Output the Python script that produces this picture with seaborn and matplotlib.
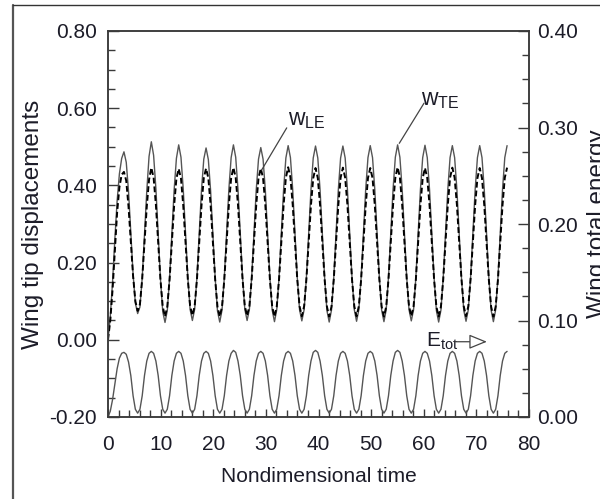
import numpy as np
import seaborn as sns
import matplotlib.pyplot as plt
from matplotlib.lines import Line2D
from matplotlib.ticker import MultipleLocator, FormatStrFormatter

DT = 5.2 / 12

w_te = [
    0.000, 0.060, 0.150, 0.260, 0.360, 0.430, 0.470,
    0.487, 0.460, 0.385, 0.280, 0.170, 0.095, 0.068, 0.085, 0.160, 0.270, 0.385, 0.475,
    0.513, 0.478, 0.392, 0.275, 0.158, 0.073, 0.045, 0.076, 0.160, 0.274, 0.388, 0.470,
    0.505, 0.473, 0.390, 0.276, 0.162, 0.079, 0.050, 0.079, 0.162, 0.275, 0.388, 0.468,
    0.497, 0.467, 0.386, 0.274, 0.160, 0.075, 0.046, 0.077, 0.161, 0.276, 0.390, 0.472,
    0.505, 0.473, 0.390, 0.276, 0.162, 0.079, 0.050, 0.079, 0.162, 0.275, 0.388, 0.468,
    0.498, 0.468, 0.387, 0.275, 0.161, 0.077, 0.047, 0.078, 0.161, 0.275, 0.389, 0.471,
    0.503, 0.472, 0.389, 0.275, 0.161, 0.078, 0.049, 0.078, 0.161, 0.275, 0.389, 0.471,
    0.502, 0.471, 0.388, 0.274, 0.160, 0.076, 0.046, 0.077, 0.161, 0.275, 0.389, 0.471,
    0.502, 0.471, 0.389, 0.275, 0.161, 0.078, 0.048, 0.078, 0.161, 0.275, 0.389, 0.472,
    0.503, 0.472, 0.389, 0.275, 0.161, 0.077, 0.047, 0.078, 0.162, 0.276, 0.390, 0.473,
    0.505, 0.473, 0.390, 0.275, 0.161, 0.078, 0.049, 0.078, 0.161, 0.275, 0.389, 0.472,
    0.504, 0.472, 0.389, 0.275, 0.160, 0.076, 0.046, 0.077, 0.161, 0.275, 0.389, 0.472,
    0.503, 0.472, 0.389, 0.275, 0.161, 0.077, 0.048, 0.078, 0.161, 0.275, 0.389, 0.472,
    0.503, 0.472, 0.389, 0.275, 0.161, 0.077, 0.047, 0.078, 0.161, 0.275, 0.389, 0.472,
    0.503,
]

w_le = [
    0.000, 0.050, 0.130, 0.230, 0.330, 0.395, 0.428,
    0.435, 0.412, 0.345, 0.255, 0.165, 0.100, 0.075, 0.092, 0.158, 0.250, 0.345, 0.415,
    0.446, 0.420, 0.350, 0.253, 0.156, 0.086, 0.060, 0.086, 0.156, 0.252, 0.348, 0.418,
    0.443, 0.418, 0.348, 0.252, 0.157, 0.088, 0.063, 0.087, 0.156, 0.252, 0.348, 0.419,
    0.444, 0.419, 0.349, 0.252, 0.156, 0.086, 0.060, 0.086, 0.156, 0.253, 0.349, 0.419,
    0.446, 0.420, 0.350, 0.253, 0.157, 0.087, 0.062, 0.087, 0.157, 0.253, 0.349, 0.419,
    0.444, 0.419, 0.349, 0.252, 0.156, 0.086, 0.060, 0.086, 0.156, 0.252, 0.349, 0.420,
    0.447, 0.421, 0.350, 0.253, 0.156, 0.087, 0.061, 0.087, 0.157, 0.253, 0.349, 0.419,
    0.445, 0.419, 0.349, 0.252, 0.156, 0.086, 0.060, 0.086, 0.156, 0.253, 0.349, 0.420,
    0.446, 0.420, 0.349, 0.253, 0.157, 0.087, 0.061, 0.087, 0.156, 0.252, 0.348, 0.419,
    0.445, 0.419, 0.349, 0.252, 0.156, 0.086, 0.060, 0.086, 0.157, 0.253, 0.349, 0.420,
    0.447, 0.421, 0.350, 0.253, 0.156, 0.087, 0.061, 0.087, 0.156, 0.253, 0.349, 0.419,
    0.445, 0.419, 0.349, 0.252, 0.156, 0.086, 0.060, 0.086, 0.156, 0.252, 0.349, 0.420,
    0.446, 0.420, 0.350, 0.253, 0.157, 0.087, 0.061, 0.087, 0.157, 0.253, 0.349, 0.419,
    0.445, 0.419, 0.349, 0.252, 0.156, 0.086, 0.060, 0.086, 0.156, 0.253, 0.349, 0.420,
    0.446,
]

e_tot = [
    0.000, 0.006, 0.018, 0.034, 0.050, 0.061, 0.066,
    0.067, 0.065, 0.057, 0.043, 0.022, 0.008, 0.004, 0.008, 0.022, 0.043, 0.058, 0.066,
    0.068, 0.066, 0.058, 0.043, 0.022, 0.008, 0.004, 0.008, 0.022, 0.043, 0.058, 0.066,
    0.068, 0.066, 0.058, 0.043, 0.022, 0.008, 0.004, 0.008, 0.022, 0.043, 0.058, 0.066,
    0.068, 0.066, 0.058, 0.043, 0.022, 0.008, 0.004, 0.008, 0.022, 0.043, 0.058, 0.066,
    0.069, 0.067, 0.058, 0.043, 0.022, 0.008, 0.004, 0.008, 0.022, 0.043, 0.058, 0.066,
    0.068, 0.066, 0.058, 0.043, 0.022, 0.008, 0.004, 0.008, 0.022, 0.043, 0.058, 0.066,
    0.068, 0.066, 0.058, 0.043, 0.022, 0.008, 0.004, 0.008, 0.022, 0.043, 0.058, 0.067,
    0.069, 0.067, 0.058, 0.043, 0.022, 0.008, 0.004, 0.008, 0.022, 0.043, 0.058, 0.066,
    0.068, 0.066, 0.058, 0.043, 0.022, 0.008, 0.004, 0.008, 0.022, 0.043, 0.058, 0.066,
    0.068, 0.066, 0.058, 0.043, 0.022, 0.008, 0.004, 0.008, 0.022, 0.043, 0.058, 0.067,
    0.069, 0.067, 0.058, 0.043, 0.022, 0.008, 0.004, 0.008, 0.022, 0.043, 0.058, 0.066,
    0.068, 0.066, 0.058, 0.043, 0.022, 0.008, 0.004, 0.008, 0.022, 0.043, 0.058, 0.066,
    0.068, 0.066, 0.058, 0.043, 0.022, 0.008, 0.004, 0.008, 0.022, 0.043, 0.058, 0.066,
    0.068, 0.066, 0.058, 0.043, 0.022, 0.008, 0.004, 0.008, 0.022, 0.043, 0.058, 0.066,
    0.068,
]

time = np.arange(len(w_te)) * DT

sns.set_style('ticks')
plt.rcParams['font.family'] = ['Liberation Sans', 'DejaVu Sans']
plt.rcParams['mathtext.default'] = 'regular'
txt = '#1c1c28'
axc = '#3a3a3a'

fig = plt.figure(figsize=(6, 4.99), dpi=100)
ax = fig.add_axes([108/600, 1 - 417/499, 421/600, 386/499])
ax2 = ax.twinx()
ax2.set_position(ax.get_position())

sns.lineplot(x=time, y=w_te, ax=ax, color='#555555', lw=1.0)
sns.lineplot(x=time, y=w_le, ax=ax, color='black', lw=1.4, linestyle=(0, (3, 1.5)))
sns.lineplot(x=time, y=e_tot, ax=ax2, color='#555555', lw=1.0)

ax.set_xlim(0, 80)
ax.set_ylim(-0.2, 0.8)
ax2.set_ylim(0, 0.4)

ax.xaxis.set_major_locator(MultipleLocator(10))
ax.xaxis.set_minor_locator(MultipleLocator(2))
ax.yaxis.set_major_locator(MultipleLocator(0.2))
ax.yaxis.set_minor_locator(MultipleLocator(0.05))
ax.yaxis.set_major_formatter(FormatStrFormatter('%.2f'))
ax2.yaxis.set_major_locator(MultipleLocator(0.1))
ax2.yaxis.set_minor_locator(MultipleLocator(0.025))
ax2.yaxis.set_major_formatter(FormatStrFormatter('%.2f'))

for a in (ax, ax2):
    for s in a.spines.values():
        s.set_visible(True)
        s.set_color(axc)
        s.set_linewidth(1.1)

ax.tick_params(axis='y', which='major', direction='in', length=8, width=1.0,
               color=axc, pad=8, labelsize=15, labelcolor=txt, right=False)
ax.tick_params(axis='y', which='minor', direction='in', length=5, width=1.0,
               color=axc, right=False)
ax.tick_params(axis='x', which='major', direction='in', length=6, width=1.0,
               color=axc, pad=13, labelsize=15, labelcolor=txt, top=False)
ax.tick_params(axis='x', which='minor', direction='in', length=5, width=1.0,
               color=axc, top=False)
ax2.tick_params(axis='y', which='major', direction='in', length=8, width=1.0,
                color=axc, pad=6, labelsize=15, labelcolor=txt)
ax2.tick_params(axis='y', which='minor', direction='in', length=5, width=1.0,
                color=axc)

ax.set_xlabel('Nondimensional time', fontsize=15, color=txt)
ax.xaxis.set_label_coords(0.5, -0.13)
ax.set_ylabel('Wing tip displacements', fontsize=17.5, color=txt)
ax.yaxis.set_label_coords(-0.152, 0.5)
ax2.set_ylabel('Wing total energy', fontsize=17.5, color=txt)
ax2.yaxis.set_label_coords(1.138, 0.5)

# leader lines and labels
line_kw = dict(arrowstyle='-', color='#444444', lw=0.9, shrinkA=0, shrinkB=0)
ax.annotate('', xy=(29.2, 0.44), xytext=(33.96, 0.549), arrowprops=line_kw)
ax.text(34.2, 0.556, 'w$_{LE}$', fontsize=16.5, color=txt, ha='left', va='baseline')
ax.annotate('', xy=(55.35, 0.509), xytext=(60.05, 0.613), arrowprops=line_kw)
ax.text(59.5, 0.608, 'w$_{TE}$', fontsize=16.5, color=txt, ha='left', va='baseline')

ax.text(60.5, -0.019, 'E$_{tot}$', fontsize=15, color=txt, ha='left', va='baseline')
ax.annotate('', xy=(72.0, -0.005), xytext=(65.9, -0.005),
            arrowprops=dict(arrowstyle='-|>,head_length=1.1,head_width=0.45',
                            fc='white', ec='#444444', lw=0.9,
                            shrinkA=0, shrinkB=0))

# page frame
fig.add_artist(Line2D([13/600, 13/600], [0, 1 - 5/499], color='#555555', lw=1.6))
fig.add_artist(Line2D([13/600, 1], [1 - 5/499, 1 - 5/499], color='#333333', lw=1.0))

fig.savefig('out.png', dpi=100)
